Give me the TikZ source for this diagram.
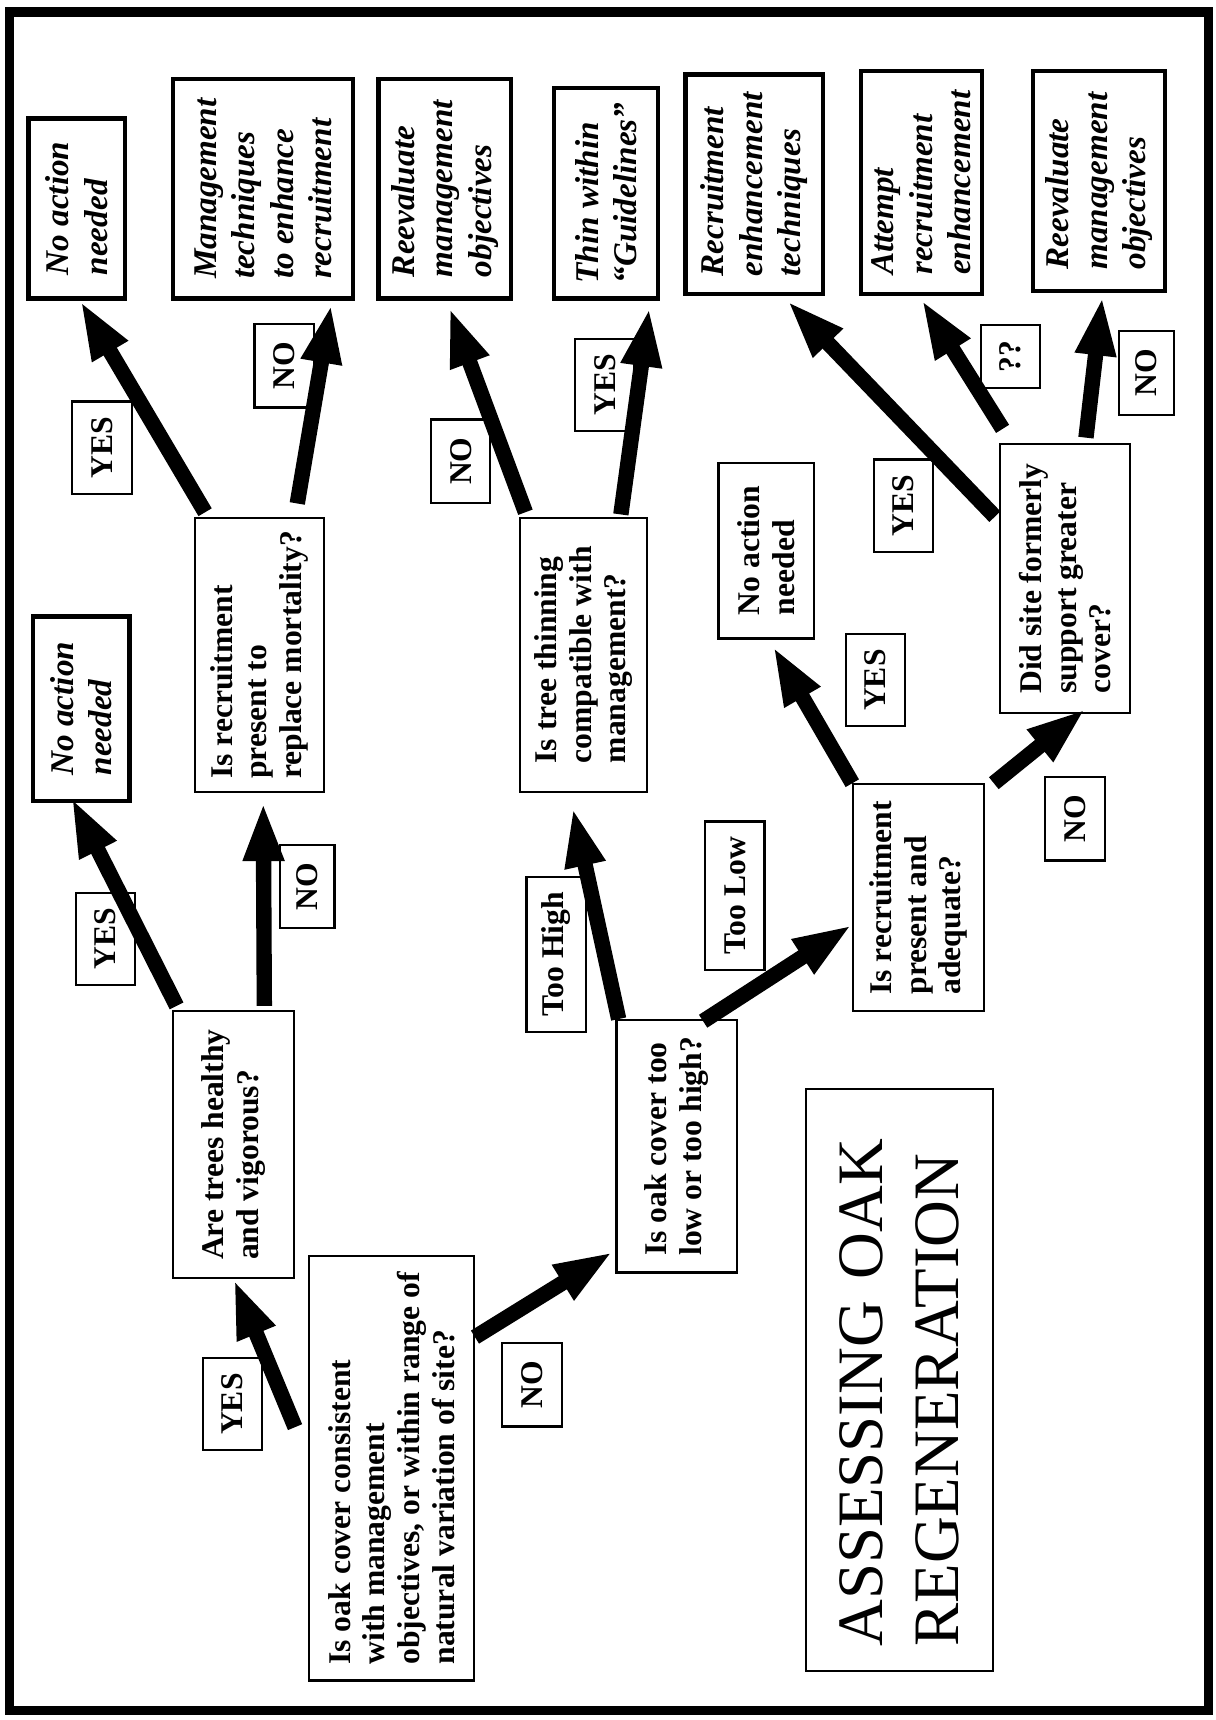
\documentclass[tikz,border=0pt]{standalone}
\usepackage{fontspec}
\setmainfont{Liberation Serif}
\usepackage{tikz}
\usetikzlibrary{arrows.meta,calc}

\begin{document}
\begin{tikzpicture}[x=0.025cm, y=0.025cm, rotate=90,
    every node/.append style={transform shape},
    question/.style={draw, line width=1.4pt, align=left, inner sep=0pt, font=\fontsize{20.5}{22.5}\selectfont\bfseries},
    outcome/.style={draw, line width=2.8pt, align=left, inner sep=0pt, font=\fontsize{21.5}{25}\selectfont\bfseries\itshape},
    answer/.style={draw, line width=1.4pt, minimum width=1.9cm, minimum height=1.35cm, inner xsep=0.35cm, font=\fontsize{20.5}{22.5}\selectfont\bfseries},
    bigarrow/.style={line width=0.35cm, -{Triangle[length=1.35cm, width=0.85cm]}}]
    \useasboundingbox (0,0) rectangle (1568,1108);
    \draw[line width=0.21cm] (9,6) rectangle (1557,1099);

    % questions
    \node[question, minimum width=9.675cm, minimum height=3.75cm] (start) at (229.5,751) {Is oak cover consistent\\with management\\objectives, or within range of\\natural variation of site?};
    \node[question, minimum width=6.075cm, minimum height=2.75cm] (healthy) at (524.5,895) {Are trees healthy\\and vigorous?};
    \node[question, minimum width=5.75cm, minimum height=2.75cm] (low) at (523,491) {Is oak cover too\\low or too high?};
    \node[question, minimum width=6.25cm, minimum height=2.925cm] (replace) at (971,871.5) {Is recruitment\\present to\\replace mortality?};
    \node[question, minimum width=6.25cm, minimum height=2.9cm] (thin) at (971,576) {Is tree thinning\\compatible with\\management?};
    \node[question, minimum width=5.175cm, minimum height=2.975cm] (adequate) at (749.5,270.5) {Is recruitment\\present and\\adequate?};
    \node[question, minimum width=6.125cm, minimum height=2.95cm] (former) at (1040.5,137) {Did site formerly\\support greater\\cover?};
    \node[question, minimum width=4cm, minimum height=2.175cm] (noact3) at (1066,409.5) {No action\\needed};

    % outcomes
    \node[outcome, minimum width=4.1cm, minimum height=2.2cm] (noact1) at (1378,1038) {No action\\needed};
    \node[outcome, minimum width=4.2cm, minimum height=2.2cm] (noact2) at (922,1034) {No action\\needed};
    \node[outcome, minimum width=5cm, minimum height=4.1cm] (manage) at (1396,868) {Management\\techniques\\to enhance\\recruitment};
    \node[outcome, minimum width=5cm, minimum height=3.025cm] (reeval1) at (1396,702.5) {Reevaluate\\management\\objectives};
    \node[outcome, minimum width=4.8cm, minimum height=2.375cm] (guide) at (1392,555.5) {Thin within\\“Guidelines”};
    \node[outcome, minimum width=5cm, minimum height=3.125cm] (enhance) at (1400,420.5) {Recruitment\\enhancement\\techniques};
    \node[outcome, minimum width=5.075cm, minimum height=2.75cm] (attempt) at (1401.5,268) {Attempt\\recruitment\\enhancement};
    \node[outcome, minimum width=5cm, minimum height=3cm] (reeval2) at (1403,106) {Reevaluate\\management\\objectives};

    % title
    \node[draw, line width=1.4pt, align=left, text width=12.15cm, inner xsep=0.55cm, minimum height=4.25cm, font=\fontsize{42}{49}\selectfont] (title) at (310,288) {ASSESSING OAK\\REGENERATION};

    % answers
    \node[answer] (yes1) at (288,896) {YES};
    \node[answer] (no1) at (305.5,623) {NO};
    \node[answer] (yes2) at (712,1012) {YES};
    \node[answer, minimum height=1.25cm] (no2) at (760,828) {NO};
    \node[answer] (high) at (698,601) {Too High};
    \node[answer] (lowlbl) at (751.5,438) {Too Low};
    \node[answer] (yes3) at (1160,1015) {YES};
    \node[answer] (no3) at (1234.5,849) {NO};
    \node[answer] (no4) at (1147.5,688) {NO};
    \node[answer] (yes4) at (1217,556.5) {YES};
    \node[answer] (yes5) at (948,310) {YES};
    \node[answer] (no5) at (821.5,128) {NO};
    \node[answer] (yes6) at (1107,284.5) {YES};
    \node[answer, minimum width=1.45cm, inner xsep=0.2cm] (unsure) at (1243,187) {??};
    \node[answer, minimum height=1.25cm] (no6) at (1228,63) {NO};

    % arrows
    \draw[bigarrow] ($(start.north west)+(232,12)$) -- (healthy.west);
    \draw[bigarrow] ($(start.south east)+(-75,0)$) -- ($(low.north west)+(20,2)$);
    \draw[bigarrow] ($(healthy.north east)+(4,-4)$) -- ($(noact2.west)+(5,9)$);
    \draw[bigarrow] ($(healthy.south east)+(4,28)$) -- ($(replace.west)+(-8,-3.5)$);
    \draw[bigarrow] ($(low.north east)+(0,-3)$) -- ($(thin.west)+(-13,10)$);
    \draw[bigarrow] ($(low.south east)+(-2,32)$) -- ($(adequate.north west)+(80,0)$);
    \draw[bigarrow] ($(replace.north east)+(4,-10)$) -- ($(noact1.west)+(0,-3)$);
    \draw[bigarrow] ($(replace.south east)+(12,25)$) -- ($(manage.south west)+(-3,22)$);
    \draw[bigarrow] ($(thin.north east)+(4,-6)$) -- ($(reeval1.west)+(-6,-4)$);
    \draw[bigarrow] ($(thin.south east)+(2,25)$) -- ($(guide.south west)+(-6,10)$);
    \draw[bigarrow] (adequate.north east) -- ($(noact3.west)+(-6,-6)$);
    \draw[bigarrow] ($(adequate.south east)+(0,-8)$) -- ($(former.west)+(5,-19)$);
    \draw[bigarrow] ($(former.north west)+(180,4)$) -- ($(enhance.west)+(-4,-30)$);
    \draw[bigarrow] ($(former.north east)+(13,-3)$) -- ($(attempt.west)+(-3,0)$);
    \draw[bigarrow] ($(former.east)+(5,-19)$) -- ($(reeval2.west)+(-3,-3)$);
\end{tikzpicture}
\end{document}
